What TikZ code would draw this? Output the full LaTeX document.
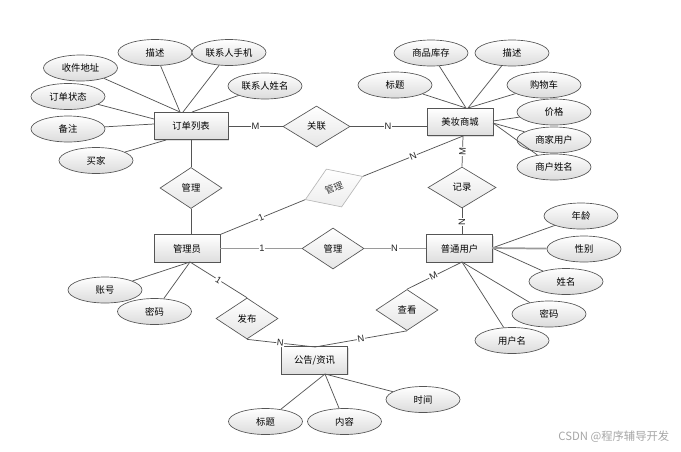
\documentclass[tikz,border=0pt]{standalone}
\usepackage{fontspec}
\newfontfamily\cjk{Noto Sans CJK SC}
\newfontfamily\latf{Liberation Sans}
\usetikzlibrary{shapes.geometric,shadows,calc}
\definecolor{ln}{HTML}{555555}
\definecolor{lnlight}{HTML}{9A9A9A}
\newcommand\erfont{\cjk\fontsize{7pt}{8pt}\selectfont}
\newcommand\cardfont{\latf\fontsize{7pt}{8pt}\selectfont}
\begin{document}
\begin{tikzpicture}[x=0.75pt,y=-0.75pt,
  entity/.style={rectangle,draw=ln,line width=0.6pt,top color=white,bottom color=black!13,
    minimum width=49.5pt,minimum height=20.5pt,inner sep=0pt,font=\erfont,
    drop shadow={shadow xshift=0.8pt,shadow yshift=-0.8pt,opacity=0.25}},
  attr/.style={ellipse,draw=ln,line width=0.5pt,top color=white,bottom color=black!14,
    minimum width=55.5pt,minimum height=19.5pt,inner sep=0pt,font=\erfont},
  rel/.style={diamond,draw=ln,line width=0.5pt,top color=white,bottom color=black!10,
    minimum width=46.5pt,minimum height=30.75pt,inner sep=0pt,font=\erfont},
  conn/.style={draw=ln,line width=0.55pt},
  heavyline/.style={draw=lnlight,line width=1.3pt},
  card/.style={fill=white,inner sep=0.5pt,font=\cardfont,sloped,text=black!85}
]
\useasboundingbox (0,0) rectangle (681,451);

% entities
\node[entity,minimum width=55.5pt] (e1) at (191,126) {订单列表};
\node[entity] (e2) at (460,122) {美妆商城};
\node[entity] (e3) at (187,248.5) {管理员};
\node[entity] (e4) at (459.5,248.5) {普通用户};
\node[entity] (e5) at (314.5,360.5) {公告/资讯};

% relationships
\node[rel,minimum width=50.25pt] (r1) at (316.5,126.5) {关联};
\node[rel] (r2) at (191,188) {管理};
\node[rel,rotate=22,draw=black!28,top color=white,bottom color=black!7,text=black!75] (r3) at (334,188) {管理};
\node[rel,minimum width=51pt] (r4) at (462,187.5) {记录};
\node[rel] (r5) at (333,248.5) {管理};
\node[rel] (r6) at (247,318.5) {发布};
\node[rel] (r7) at (407,310) {查看};

% attributes of 订单列表
\node[attr] (a1) at (80.5,68) {收件地址};
\node[attr] (a2) at (155,52.5) {描述};
\node[attr] (a3) at (229,52.5) {联系人手机};
\node[attr] (a4) at (265,86) {联系人姓名};
\node[attr] (a5) at (68,96.5) {订单状态};
\node[attr] (a6) at (68,129) {备注};
\node[attr] (a7) at (96,160.5) {买家};

% attributes of 美妆商城
\node[attr] (b1) at (431,53) {商品库存};
\node[attr] (b2) at (512,53) {描述};
\node[attr] (b3) at (395,85) {标题};
\node[attr] (b4) at (544,85) {购物车};
\node[attr] (b5) at (554,112) {价格};
\node[attr] (b6) at (554,140) {商家用户};
\node[attr] (b7) at (554,167) {商户姓名};

% attributes of 管理员
\node[attr] (c1) at (105,290) {账号};
\node[attr] (c2) at (154.5,311.5) {密码};

% attributes of 普通用户
\node[attr] (d1) at (581,216) {年龄};
\node[attr] (d2) at (584,249) {性别};
\node[attr] (d3) at (566,281.5) {姓名};
\node[attr] (d4) at (549,314) {密码};
\node[attr] (d5) at (512,340.5) {用户名};

% attributes of 公告/资讯
\node[attr] (f1) at (265.5,421.5) {标题};
\node[attr] (f2) at (344.5,421.5) {内容};
\node[attr] (f3) at (423,399.5) {时间};

% anchor points on entity borders
\coordinate (e1a) at (180,112);
\coordinate (e1b) at (183,112);
\coordinate (e1c) at (192,112);
\coordinate (e1d) at (154,119);
\coordinate (e1e) at (154,124);
\coordinate (e1f) at (166,140);
\coordinate (e1g) at (191,140);
\coordinate (e2a) at (466,108);
\coordinate (e2b) at (468,108);
\coordinate (e2c) at (493,121);
\coordinate (e2d) at (493,123);
\coordinate (e2e) at (463,136);
\coordinate (e2f) at (427,126.5);
\coordinate (e3a) at (190,262);
\coordinate (e3b) at (191,235);
\coordinate (e4a) at (492,248);
\coordinate (e4b) at (462,262);
\coordinate (e4c) at (462,235);
\coordinate (e5a) at (325,374);
\coordinate (e5b) at (315,347);

% attribute connectors
\foreach \a/\p in {a1/e1a,a2/e1a,a3/e1b,a4/e1c,a5/e1d,a6/e1e,a7/e1f,
  b1/e2a,b3/e2a,b2/e2b,b4/e2b,b5/e2c,b6/e2d,b7/e2d,
  c1/e3a,c2/e3a,d1/e4a,d3/e4a,d4/e4b,d5/e4b,f1/e5a,f2/e5a,f3/e5a}
  \draw[conn] (\a) -- (\p);
\draw[heavyline] (d2) -- (e4a);

% relationship connectors
\draw[conn] (e1.east |- r1.west) -- (r1.west) node[card,pos=0.5] {M};
\draw[conn] (r1.east) -- (e2f) node[card,pos=0.49] {N};
\draw[conn] (e1g) -- (r2.north);
\draw[conn] (r2.south) -- (e3b);
\draw[conn] (e3.north east) -- (r3.west) node[card,pos=0.48] {1};
\draw[conn] (r3.east) -- (e2e) node[card,pos=0.5] {N};
\draw[conn] (r4.north) -- (e2e) node[card,pos=0.5] {M};
\draw[conn] (e4c) -- (r4.south) node[card,pos=0.5] {N};
\draw[heavyline] (e3.east) -- (r5.west) node[card,pos=0.51] {1};
\draw[heavyline] (r5.east) -- (e4.west) node[card,pos=0.49] {N};
\draw[conn] (e3a) -- (r6.north) node[card,pos=0.5] {1};
\draw[conn] (r6.south) -- (e5b) node[card,pos=0.49] {N};
\draw[conn] (r7.north) -- (e4b) node[card,pos=0.48] {M};
\draw[conn] (r7.south) -- (e5b) node[card,pos=0.5] {N};

% watermark
\node[font=\cjk\fontsize{8.5pt}{10pt}\selectfont,text=black!35,anchor=east] (wm) at (674,437) {CSDN @程序辅导开发};
\end{tikzpicture}
\end{document}
